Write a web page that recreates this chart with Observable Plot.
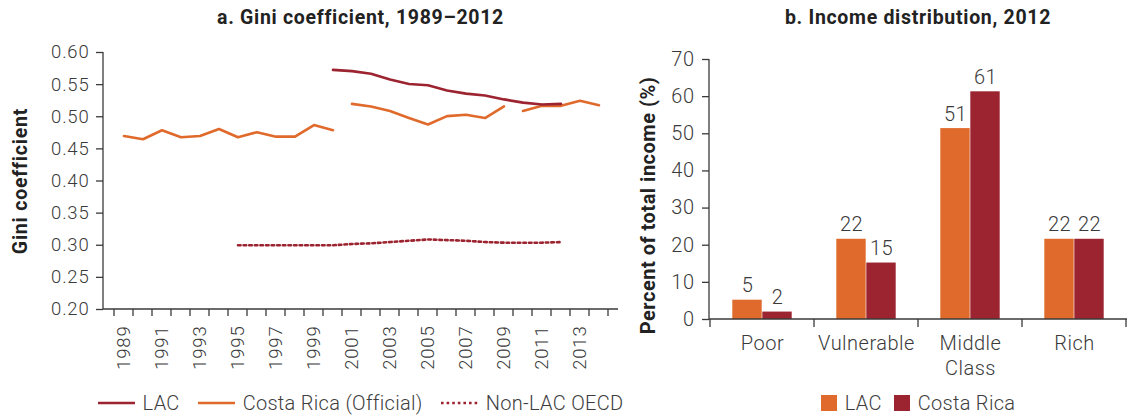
<!DOCTYPE html>
<html><head><meta charset="utf-8">
<script src="https://cdn.jsdelivr.net/npm/d3@7"></script>
<script src="https://cdn.jsdelivr.net/npm/@observablehq/plot@0.6"></script>
<style>
body{margin:0;background:#fff;}
#wrap{position:relative;width:1127px;height:416px;font-family:Roboto,"Noto Sans",sans-serif;color:#3d3d3d;overflow:hidden;}
.panel{position:absolute;top:0;height:416px;}
.title{position:absolute;top:0;height:36px;line-height:36px;text-align:center;font-weight:700;font-size:19.5px;letter-spacing:0.7px;color:#222;white-space:nowrap;}
.chart{position:absolute;top:34px;left:0;}
.legend{position:absolute;top:388px;height:30px;display:flex;justify-content:center;align-items:center;font-size:20px;font-weight:300;letter-spacing:0.3px;white-space:nowrap;}
.legend .item{display:flex;align-items:center;margin:0 6px;}
#legA .item{margin:0 9px;}
.legend svg{margin-right:8px;}
</style></head>
<body><div id="wrap">
<div class="panel" id="pl" style="left:0;width:640px;">
  <div class="title" style="left:103px;width:515px;">a. Gini coefficient, 1989–2012</div>
  <div class="chart" id="chartA"></div>
  <div class="legend" id="legA" style="left:103px;width:515px;"></div>
</div>
<div class="panel" id="pr" style="left:640px;width:487px;">
  <div class="title" style="left:69px;width:418px;">b. Income distribution, 2012</div>
  <div class="chart" id="chartB"></div>
  <div class="legend" id="legB" style="left:69px;width:418px;"></div>
</div>
</div>
<script>
// ---------- Data: panel a ----------
const years = [1989,1990,1991,1992,1993,1994,1995,1996,1997,1998,1999,2000,2001,2002,2003,2004,2005,2006,2007,2008,2009,2010,2011,2012,2013,2014];
const yearTickLabels = [1989,1991,1993,1995,1997,1999,2001,2003,2005,2007,2009,2011,2013];
const giniTicks = [0.20,0.25,0.30,0.35,0.40,0.45,0.50,0.55,0.60];

const lacYears = [2000,2001,2002,2003,2004,2005,2006,2007,2008,2009,2010,2011,2012];
const lacGini  = [0.573,0.571,0.567,0.558,0.551,0.549,0.541,0.536,0.533,0.527,0.522,0.519,0.520];

const crYears = [1989,1990,1991,1992,1993,1994,1995,1996,1997,1998,1999,2000,2001,2002,2003,2004,2005,2006,2007,2008,2009,2010,2011,2012,2013,2014];
const crGini  = [0.470,0.465,0.479,0.468,0.470,0.481,0.468,0.476,0.469,0.469,0.487,0.479,0.520,0.516,0.509,0.498,0.488,0.501,0.503,0.498,0.516,0.509,0.517,0.517,0.525,0.518];
const crSeriesBreaks = [2001, 2010]; // years where a new survey series starts

const oecdYears = [1995,1996,1997,1998,1999,2000,2001,2002,2003,2004,2005,2006,2007,2008,2009,2010,2011,2012];
const oecdGini  = [0.300,0.300,0.300,0.300,0.300,0.300,0.302,0.303,0.305,0.307,0.309,0.308,0.307,0.305,0.304,0.304,0.304,0.305];

// ---------- Data: panel b ----------
const groups = ["Poor","Vulnerable","Middle Class","Rich"];
const lacShare = [5.2, 21.6, 51.4, 21.6];
const crShare  = [2.0, 15.2, 61.3, 21.6];
const shareTicks = [0,10,20,30,40,50,60,70];

const seriesA = ["LAC","Costa Rica (Official)","Non-LAC OECD"];
const seriesB = ["LAC","Costa Rica"];

// ---------- Styles ----------
const ORANGE = "#e06a2c";
const RED = "#9c2430";
const AXIS = "#3a3a3a";
const FONT = "Roboto, 'Noto Sans', sans-serif";

const lacRowsA = lacYears.map((y,i)=>({year:y, gini:lacGini[i]}));
const crRowsA = crYears.map((y,i)=>({year:y, gini:crGini[i], seg: crSeriesBreaks.filter(b=>b<=y).length}));
const oecdRowsA = oecdYears.map((y,i)=>({year:y, gini:oecdGini[i]}));

const lacRowsB = groups.map((g,i)=>({group:g, value:lacShare[i]}));
const crRowsB = groups.map((g,i)=>({group:g, value:crShare[i]}));

// band-edge ticks and axis lines, derived from the band scale
function bandFrame(tickLen) {
  return (index, scales, values, dims) => {
    const x = scales.x;
    const {width, height, marginLeft, marginRight, marginTop, marginBottom} = dims;
    const y0 = height - marginBottom;
    const dom = x.domain();
    const edges = dom.map(d => x(d));
    edges.push(x(dom[dom.length-1]) + x.bandwidth());
    const g = d3.create("svg:g").attr("stroke", AXIS).attr("stroke-width", 1.3).attr("fill", "none");
    g.append("line").attr("x1", marginLeft).attr("x2", marginLeft).attr("y1", marginTop).attr("y2", y0);
    g.append("line").attr("x1", marginLeft).attr("x2", width - marginRight).attr("y1", y0).attr("y2", y0);
    g.selectAll("line.t").data(edges).join("line").attr("class","t")
      .attr("x1", d=>d).attr("x2", d=>d).attr("y1", y0).attr("y2", y0 + tickLen);
    return g.node();
  };
}

const chartA = Plot.plot({
  width: 640, height: 346,
  marginTop: 18, marginBottom: 71, marginLeft: 103, marginRight: 22,
  style: {fontFamily: FONT, fontSize: "18.5px", fontWeight: 300, letterSpacing: "0.8px", color: AXIS, background: "transparent", overflow: "visible"},
  x: {type: "band", domain: years, padding: 0},
  y: {domain: [0.2, 0.6]},
  marks: [
    Plot.axisY({ticks: giniTicks, tickFormat: d3.format(".2f"), tickSize: 7, tickPadding: 7, label: null, strokeWidth: 1.3}),
    Plot.axisX({ticks: yearTickLabels, tickFormat: d => String(d), tickSize: 0, tickPadding: 16, tickRotate: -90, label: null}),
    bandFrame(7),
    Plot.lineY(oecdRowsA, {x: "year", y: "gini", stroke: RED, strokeWidth: 2.6, strokeDasharray: "2.6,3"}),
    Plot.lineY(crRowsA, {x: "year", y: "gini", z: "seg", stroke: ORANGE, strokeWidth: 2.6}),
    Plot.lineY(lacRowsA, {x: "year", y: "gini", stroke: RED, strokeWidth: 2.6}),
    Plot.text(["Gini coefficient"], {frameAnchor: "left", textAnchor: "middle", rotate: -90, dx: -83, fontWeight: 700, fontSize: 19.5, letterSpacing: "0.4px", fill: "#222", text: d => d})
  ]
});
document.getElementById("chartA").appendChild(chartA);

const chartB = Plot.plot({
  width: 487, height: 346,
  marginTop: 25, marginBottom: 61, marginLeft: 69, marginRight: 0,
  style: {fontFamily: FONT, fontSize: "20px", fontWeight: 300, letterSpacing: "0.5px", color: AXIS, background: "transparent", overflow: "visible"},
  x: {type: "band", domain: groups, padding: 0},
  y: {domain: [0, 70]},
  marks: [
    Plot.axisY({ticks: shareTicks, tickSize: 7, tickPadding: 8, label: null, strokeWidth: 1.3}),
    Plot.axisX({tickSize: 0, tickPadding: 13, label: null, lineHeight: 1.25, tickFormat: d => d.replace(" ", "\n")}),
    Plot.barY(lacRowsB, {x: "group", y: "value", fill: ORANGE, insetLeft: 22.3, insetRight: 52.3}),
    Plot.barY(crRowsB, {x: "group", y: "value", fill: RED, insetLeft: 52.3, insetRight: 22.3}),
    bandFrame(8),
    Plot.text(lacRowsB, {x: "group", y: "value", text: d => d3.format(".0f")(d.value), dx: -15, dy: -8, lineAnchor: "bottom", fill: AXIS}),
    Plot.text(crRowsB, {x: "group", y: "value", text: d => d3.format(".0f")(d.value), dx: 15, dy: -8, lineAnchor: "bottom", fill: AXIS}),
    Plot.text(["Percent of total income (%)"], {frameAnchor: "left", textAnchor: "middle", rotate: -90, dx: -61, dy: 16, fontWeight: 700, fontSize: 20, letterSpacing: "0.5px", fill: "#222", text: d => d})
  ]
});
document.getElementById("chartB").appendChild(chartB);

// ---------- Legends ----------
const legA = d3.select("#legA");
const styleA = [{stroke: RED, dash: null},{stroke: ORANGE, dash: null},{stroke: RED, dash: "2.6,3"}];
seriesA.forEach((s,i) => {
  const it = legA.append("div").attr("class","item");
  const sv = it.append("svg").attr("width", 37).attr("height", 10);
  sv.append("line").attr("x1",0).attr("x2",37).attr("y1",5).attr("y2",5)
    .attr("stroke", styleA[i].stroke).attr("stroke-width", 2.6).attr("stroke-dasharray", styleA[i].dash);
  it.append("span").text(s);
});
const legB = d3.select("#legB");
const colB = [ORANGE, RED];
seriesB.forEach((s,i) => {
  const it = legB.append("div").attr("class","item");
  const sv = it.append("svg").attr("width", 16).attr("height", 16);
  sv.append("rect").attr("width",16).attr("height",16).attr("fill", colB[i]);
  it.append("span").text(s);
});
</script>
</body></html>
